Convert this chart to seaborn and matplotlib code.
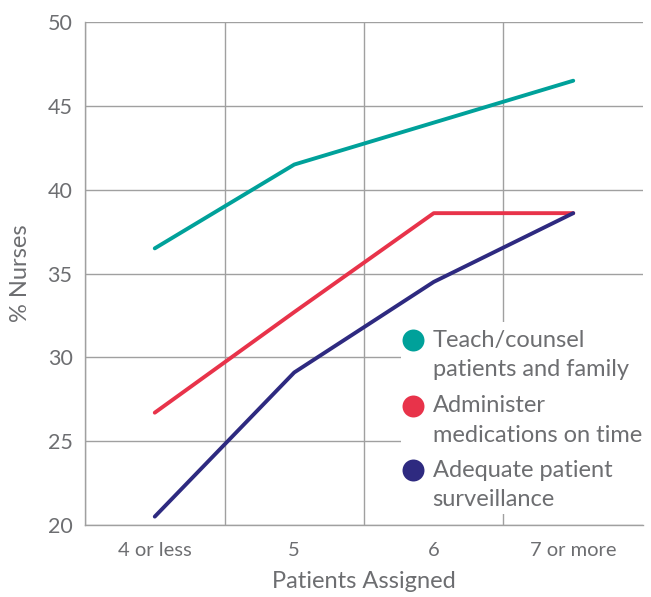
import matplotlib.pyplot as plt
import pandas as pd
import seaborn as sns
from matplotlib.patches import Rectangle

CATEGORIES = ["4 or less", "5", "6", "7 or more"]
TEACH = [36.5, 41.5, 44.0, 46.5]
MEDS = [26.7, 32.7, 38.6, 38.6]
SURVEIL = [20.5, 29.1, 34.5, 38.6]

SERIES = {
    "Teach/counsel\npatients and family": TEACH,
    "Administer\nmedications on time": MEDS,
    "Adequate patient\nsurveillance": SURVEIL,
}
COLORS = ["#00A19A", "#E8334A", "#2E2A80"]
TEXT = "#6d6e71"
GRID = "#a0a0a0"

rows = []
for name, vals in SERIES.items():
    for i, v in enumerate(vals):
        rows.append({"pos": i, "value": v, "series": name})
df = pd.DataFrame(rows)

sns.set_style("white")
plt.rcParams["font.family"] = ["Lato", "DejaVu Sans"]

fig = plt.figure(figsize=(6.51, 5.97), dpi=100)
ax = fig.add_axes([0.1306, 0.1206, 0.8571, 0.8425])

sns.lineplot(data=df, x="pos", y="value", hue="series", palette=COLORS,
             linewidth=2.8, legend=False, ax=ax, zorder=3,
             solid_capstyle="round")

ax.set_xlim(-0.5, 3.5)
ax.set_ylim(20, 50)
ax.set_yticks(range(20, 51, 5))
ax.set_xticks(range(len(CATEGORIES)))
ax.set_xticklabels(CATEGORIES)
ax.set_xticks([-0.5, 0.5, 1.5, 2.5], minor=True)

ax.grid(axis="y", color=GRID, linewidth=1)
ax.grid(axis="x", which="minor", color=GRID, linewidth=1)
ax.set_axisbelow(True)

for s in ["top", "right"]:
    ax.spines[s].set_visible(False)
for s in ["left", "bottom"]:
    ax.spines[s].set_color(GRID)
    ax.spines[s].set_linewidth(1)

ax.tick_params(axis="y", length=4, color=GRID, labelsize=15.5, labelcolor=TEXT, pad=5)
ax.tick_params(axis="x", which="major", length=0, labelsize=14.5, labelcolor=TEXT, pad=12)
ax.tick_params(axis="x", which="minor", length=10, color=GRID, width=1)

ax.set_xlabel("Patients Assigned", fontsize=17, color=TEXT, labelpad=9)
ax.set_ylabel("% Nurses", fontsize=17, color=TEXT, labelpad=12)

# legend drawn by hand so the dot sits on the first text line
ax.add_patch(Rectangle((0.5655, 0.022), 0.44, 0.382, transform=ax.transAxes,
                       facecolor="white", edgecolor="none", zorder=4,
                       clip_on=False))
entry_y = [0.3678, 0.2366, 0.1093]
line_gap = 0.058
for (name, _), color, y in zip(SERIES.items(), COLORS, entry_y):
    ax.scatter([0.5885], [y], s=250, color=color, transform=ax.transAxes,
               zorder=5, clip_on=False, linewidths=0)
    for k, part in enumerate(name.split("\n")):
        ax.text(0.623, y - k * line_gap, part, transform=ax.transAxes,
                fontsize=17, color=TEXT, va="center", ha="left", zorder=5)

fig.savefig("out.png", dpi=100)
